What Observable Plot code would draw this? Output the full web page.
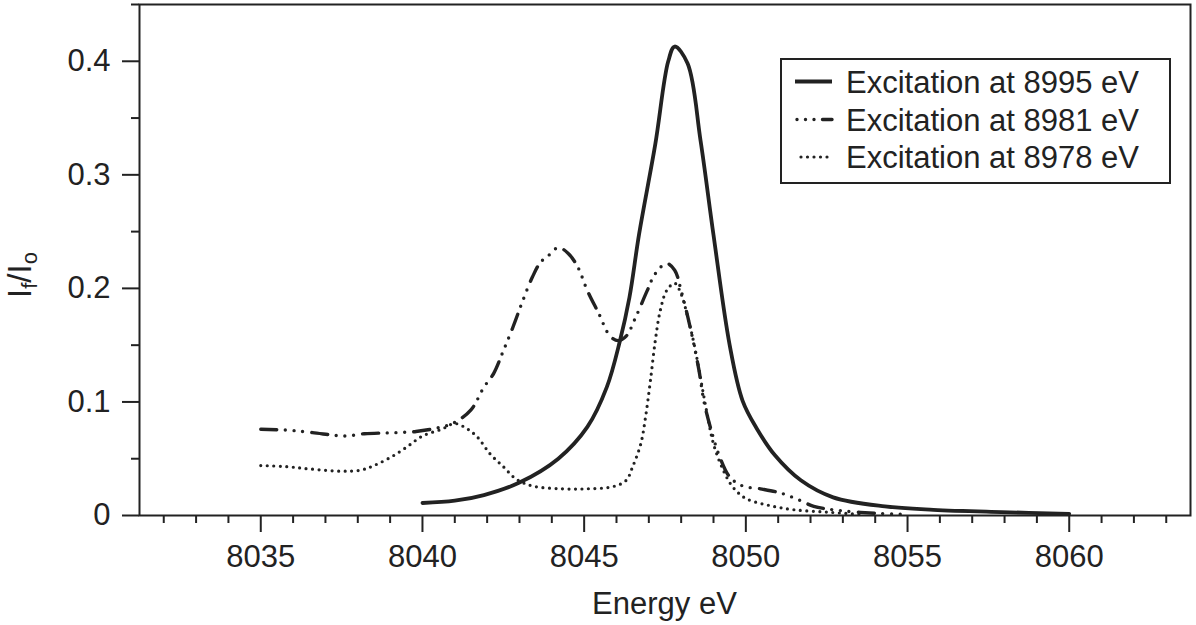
<!DOCTYPE html>
<html>
<head>
<meta charset="utf-8">
<script src="https://cdn.jsdelivr.net/npm/d3@7"></script>
<script src="https://cdn.jsdelivr.net/npm/@observablehq/plot@0.6"></script>
<style>
  html, body { margin: 0; padding: 0; background: #fff; }
  #chart { width: 1196px; height: 625px; }
</style>
</head>
<body>
<div id="chart"></div>
<script>
// ---- Data ----
const seriesNames = ["Excitation at 8995 eV", "Excitation at 8981 eV", "Excitation at 8978 eV"];

const energy8995 = [8040.0, 8041.0, 8041.9, 8043.0, 8044.2, 8045.1, 8045.7, 8046.1, 8046.4, 8046.7, 8047.2, 8047.6, 8047.8, 8048.2, 8048.6, 8049.0, 8049.5, 8049.9, 8050.35, 8050.9, 8051.7, 8052.7, 8054.3, 8055.8, 8057.9, 8060.0];
const ratio8995  = [0.011, 0.013, 0.018, 0.029, 0.050, 0.078, 0.113, 0.153, 0.192, 0.248, 0.327, 0.400, 0.413, 0.398, 0.330, 0.247, 0.150, 0.101, 0.076, 0.053, 0.031, 0.016, 0.008, 0.005, 0.003, 0.0015];

const energy8981 = [8035.0, 8035.9, 8036.6, 8037.6, 8038.2, 8039.2, 8039.8, 8040.6, 8041.0, 8041.5, 8041.9, 8042.2, 8042.5, 8042.8, 8043.1, 8043.4, 8043.65, 8043.9, 8044.2, 8044.5, 8044.8, 8045.1, 8045.45, 8045.8, 8046.05, 8046.3, 8046.6, 8046.95, 8047.2, 8047.55, 8047.8, 8048.0, 8048.3, 8048.55, 8048.7, 8048.9, 8049.2, 8049.5, 8049.9, 8050.45, 8051.1, 8051.7, 8052.1, 8052.9, 8054.0, 8055.0];
const ratio8981  = [0.076, 0.075, 0.073, 0.070, 0.072, 0.073, 0.074, 0.078, 0.082, 0.093, 0.113, 0.125, 0.145, 0.166, 0.189, 0.210, 0.223, 0.229, 0.236, 0.231, 0.219, 0.198, 0.178, 0.158, 0.154, 0.158, 0.175, 0.198, 0.213, 0.222, 0.216, 0.198, 0.163, 0.128, 0.101, 0.078, 0.051, 0.034, 0.026, 0.0235, 0.0196, 0.013, 0.008, 0.0044, 0.002, 0.001];

const energy8978 = [8035.0, 8035.8, 8036.5, 8037.5, 8038.1, 8038.5, 8039.0, 8039.5, 8040.0, 8040.6, 8041.0, 8041.4, 8041.7, 8042.1, 8042.5, 8042.9, 8043.4, 8044.3, 8045.1, 8045.9, 8046.3, 8046.5, 8046.75, 8046.9, 8047.05, 8047.2, 8047.35, 8047.55, 8047.8, 8048.0, 8048.2, 8048.4, 8048.8, 8049.0, 8049.3, 8049.6, 8050.0, 8050.7, 8051.5, 8052.5, 8053.5];
const ratio8978  = [0.044, 0.043, 0.041, 0.039, 0.040, 0.044, 0.051, 0.060, 0.070, 0.076, 0.081, 0.076, 0.069, 0.054, 0.043, 0.032, 0.026, 0.0235, 0.0235, 0.0255, 0.031, 0.043, 0.063, 0.087, 0.119, 0.154, 0.180, 0.198, 0.2045, 0.195, 0.175, 0.151, 0.090, 0.063, 0.040, 0.025, 0.015, 0.009, 0.005, 0.003, 0.001];

const xTicksMajor = [8035, 8040, 8045, 8050, 8055, 8060];
const xTickLabels = ["8035", "8040", "8045", "8050", "8055", "8060"];
const xTicksMinor = [8032, 8033, 8034, 8036, 8037, 8038, 8039, 8041, 8042, 8043, 8044, 8046, 8047, 8048, 8049, 8051, 8052, 8053, 8054, 8056, 8057, 8058, 8059, 8061, 8062, 8063];
const yTicksMajor = [0, 0.1, 0.2, 0.3, 0.4];
const yTickLabels = ["0", "0.1", "0.2", "0.3", "0.4"];
const yTicksMinor = [0.05, 0.15, 0.25, 0.35, 0.45];

const xTitle = "Energy eV";

// ---- Build tables ----
const toRows = (xs, ys) => xs.map((x, i) => ({x, y: ys[i]}));
const s8995 = toRows(energy8995, ratio8995);
const s8981 = toRows(energy8981, ratio8981);
const s8978 = toRows(energy8978, ratio8978);

const ink = "#222";
const dashDot = "16,8.5,0,8.7,0,8.7,0,9.3";
const dotted = "0,6.5";
const font = "'Liberation Sans', Arial, Helvetica, sans-serif";

const chart = Plot.plot({
  width: 1196,
  height: 625,
  marginLeft: 139,
  marginRight: 6,
  marginTop: 4,
  marginBottom: 110,
  style: {fontFamily: font, color: ink, background: "#fff", overflow: "visible"},
  x: {domain: [8031.25, 8063.75]},
  y: {domain: [0, 0.45]},
  marks: [
    Plot.line(s8978, {x: "x", y: "y", stroke: ink, strokeWidth: 3.2, strokeDasharray: dotted, strokeLinecap: "round", curve: "catmull-rom"}),
    Plot.line(s8981, {x: "x", y: "y", stroke: ink, strokeWidth: 3.4, strokeDasharray: dashDot, strokeLinecap: "round", curve: "catmull-rom"}),
    Plot.line(s8995, {x: "x", y: "y", stroke: ink, strokeWidth: 3.8, curve: "catmull-rom"}),
    Plot.axisX({ticks: xTicksMinor, tickSize: 8, tickFormat: () => "", label: null, stroke: ink, strokeWidth: 2}),
    Plot.axisX({ticks: xTicksMajor, tickSize: 17, tickPadding: 12, fontSize: 31, tickFormat: d => xTickLabels[xTicksMajor.indexOf(d)], label: null, stroke: ink, strokeWidth: 2, fill: ink}),
    Plot.axisY({ticks: yTicksMinor, tickSize: 8, tickFormat: () => "", label: null, stroke: ink, strokeWidth: 2}),
    Plot.axisY({ticks: yTicksMajor, tickSize: 17, tickPadding: 12, fontSize: 31, tickFormat: d => yTickLabels[yTicksMajor.indexOf(d)], label: null, stroke: ink, strokeWidth: 2, fill: ink}),
    Plot.frame({stroke: ink, strokeWidth: 2})
  ]
});

document.getElementById("chart").appendChild(chart);

// ---- Titles and legend ----
const svg = d3.select(chart);

svg.append("text")
  .attr("x", 664.5).attr("y", 614)
  .attr("text-anchor", "middle")
  .attr("font-family", font).attr("font-size", 31).attr("fill", ink)
  .text(xTitle);

const yt = svg.append("text")
  .attr("transform", "translate(31,275) rotate(-90)")
  .attr("text-anchor", "middle")
  .attr("font-family", font).attr("font-size", 33).attr("fill", ink);
yt.append("tspan").text("I");
yt.append("tspan").attr("font-size", 22).attr("dy", 6).text("f");
yt.append("tspan").attr("dy", -6).text("/I");
yt.append("tspan").attr("font-size", 22).attr("dy", 6).text("o");

const lg = svg.append("g");
lg.append("rect")
  .attr("x", 781).attr("y", 59).attr("width", 389).attr("height", 124)
  .attr("fill", "#fff").attr("stroke", ink).attr("stroke-width", 2);
const rowY = [81.5, 119.5, 157];
const styles = [
  {w: 3.8, dash: null},
  {w: 3.4, dash: "0,8.5,0,8.5,0,8.5,13,20"},
  {w: 3.2, dash: dotted}
];
seriesNames.forEach((name, i) => {
  const l = lg.append("line")
    .attr("x1", i === 1 ? 797 : (i === 2 ? 801 : 795)).attr("x2", 832)
    .attr("y1", rowY[i]).attr("y2", rowY[i])
    .attr("stroke", ink).attr("stroke-width", styles[i].w)
    .attr("stroke-linecap", i === 0 ? "butt" : "round");
  if (styles[i].dash) l.attr("stroke-dasharray", styles[i].dash);
  lg.append("text")
    .attr("x", 846).attr("y", rowY[i] + 11)
    .attr("text-anchor", "start")
    .attr("font-family", font).attr("font-size", 31).attr("fill", ink)
    .text(name);
});
</script>
</body>
</html>
